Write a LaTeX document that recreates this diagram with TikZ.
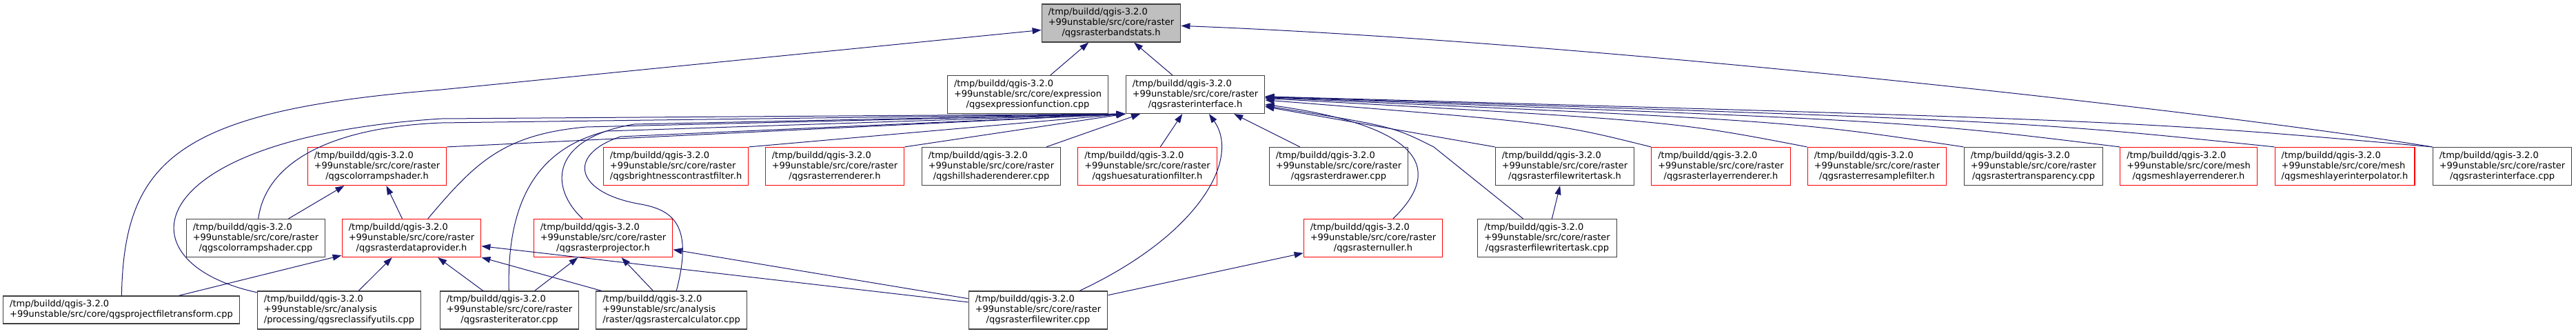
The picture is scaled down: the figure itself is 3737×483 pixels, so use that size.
\documentclass[tikz,border=0pt]{standalone}
\usepackage{fontspec}
\setmainfont{DejaVu Sans}
\usetikzlibrary{arrows.meta}
\definecolor{edgeblue}{RGB}{25,25,112}
\definecolor{boxline}{RGB}{64,64,64}
\definecolor{rootfill}{RGB}{191,191,191}
% three-line file label: first lines flush left, last line centred
\newcommand{\qpath}[2]{\begin{tabular}{@{}l@{}}/tmp/buildd/qgis-3.2.0\\+99unstable/src/#1\\\multicolumn{1}{@{}c@{}}{#2}\end{tabular}}

\begin{document}
\begin{tikzpicture}[
  x=0.5pt, y=-0.5pt,
  fnode/.style={draw=boxline, fill=white, line width=0.6pt, inner xsep=4.8pt,
                inner ysep=0pt, minimum height=27.5pt,
                font=\fontsize{6.5}{7.5}\selectfont},
  trunc/.style={fnode, draw=red},
  root/.style={fnode, fill=rootfill},
  ar/.style={-{Triangle[length=6.5pt,width=4.5pt]}, draw=edgeblue, line width=0.5pt},
]
\useasboundingbox (0,0) rectangle (3737,483);

\node[root] (bst) at (1612,33.5) {\qpath{core/raster}{/qgsrasterbandstats.h}};

\node[fnode] (exp) at (1491,137) {\qpath{core/expression}{/qgsexpressionfunction.cpp}};
\node[fnode] (rih) at (1734,137) {\qpath{core/raster}{/qgsrasterinterface.h}};

\node[trunc] (csh)  at (547,241)    {\qpath{core/raster}{/qgscolorrampshader.h}};
\node[trunc] (bcf)  at (980.6,241)  {\qpath{core/raster}{/qgsbrightnesscontrastfilter.h}};
\node[trunc] (rrd)  at (1211,241)   {\qpath{core/raster}{/qgsrasterrenderer.h}};
\node[fnode] (hsr)  at (1438,241)   {\qpath{core/raster}{/qgshillshaderenderer.cpp}};
\node[trunc] (hsf)  at (1664.5,241) {\qpath{core/raster}{/qgshuesaturationfilter.h}};
\node[fnode] (rdr)  at (1942,241)   {\qpath{core/raster}{/qgsrasterdrawer.cpp}};
\node[fnode] (fwth) at (2270,241)   {\qpath{core/raster}{/qgsrasterfilewritertask.h}};
\node[trunc] (rlr)  at (2496.5,241) {\qpath{core/raster}{/qgsrasterlayerrenderer.h}};
\node[trunc] (rsf)  at (2723,241)   {\qpath{core/raster}{/qgsrasterresamplefilter.h}};
\node[fnode] (rtr)  at (2950,241)   {\qpath{core/raster}{/qgsrastertransparency.cpp}};
\node[trunc] (mlr)  at (3175,241)   {\qpath{core/mesh}{/qgsmeshlayerrenderer.h}};
\node[trunc] (mli)  at (3401.5,241) {\qpath{core/mesh}{/qgsmeshlayerinterpolator.h}};
\node[fnode] (rif)  at (3630,241)   {\qpath{core/raster}{/qgsrasterinterface.cpp}};

\node[fnode] (csc)  at (371,345)    {\qpath{core/raster}{/qgscolorrampshader.cpp}};
\node[trunc] (rdp)  at (597,345)    {\qpath{core/raster}{/qgsrasterdataprovider.h}};
\node[trunc] (rpj)  at (875,345)    {\qpath{core/raster}{/qgsrasterprojector.h}};
\node[trunc] (rnl)  at (1992,345)   {\qpath{core/raster}{/qgsrasternuller.h}};
\node[fnode] (fwtc) at (2244.5,345) {\qpath{core/raster}{/qgsrasterfilewritertask.cpp}};

\node[fnode, minimum height=20pt] (pft) at (176,449)
  {\begin{tabular}{@{}l@{}}/tmp/buildd/qgis-3.2.0\\+99unstable/src/core/qgsprojectfiletransform.cpp\end{tabular}};
\node[fnode] (rcu) at (492,449.5)  {\qpath{analysis}{/processing/qgsreclassifyutils.cpp}};
\node[fnode] (rit) at (739,449.5)  {\qpath{core/raster}{/qgsrasteriterator.cpp}};
\node[fnode] (rcc) at (974,449.5)  {\qpath{analysis}{/raster/qgsrastercalculator.cpp}};
\node[fnode] (rfw) at (1506,449.5) {\qpath{core/raster}{/qgsrasterfilewriter.cpp}};

% includes of the band stats header
\draw[ar] (pft) .. controls (180,230) and (260,160) .. (640,130) -- (bst);
\draw[ar] (exp) -- (bst);
\draw[ar] (rih) -- (bst);
\draw[ar] (rif.north west) .. controls (3200,160) and (2300,60) .. (bst);

% includes of the raster interface, from the left
\draw[ar] (csc) .. controls (385,240) and (470,185) .. (640,178) -- (rih.south west);
\draw[ar] (rcu) .. controls (170,380) and (200,200) .. (640,172) -- (rih.south west);
\draw[ar] (rdp) .. controls (690,235) and (730,195) .. (850,184) -- (rih.south west);
\draw[ar] (rit) .. controls (735,290) and (780,215) .. (880,190) -- (rih.south west);
\draw[ar] (rpj) .. controls (795,270) and (800,200) .. (920,180) -- (rih.south west);
\draw[ar] (rcc) .. controls (1005,330) and (980,305) .. (930,296)
               .. controls (835,280) and (820,225) .. (900,198) -- (rih.south west);
\draw[ar] (csh.north east) -- (rih.south west);
\draw[ar] (bcf.north east) -- (rih.south west);
\draw[ar] (rrd.north east) -- (rih.south west);
\draw[ar] (hsr) -- (rih);
\draw[ar] (hsf) -- (rih);
\draw[ar] (rfw) .. controls (1740,340) and (1800,230) .. (rih);

% includes of the raster interface, from the right
\draw[ar] (rdr) -- (rih);
\draw[ar] (rnl) .. controls (2090,250) and (2075,185) .. (rih);
\draw[ar] (fwtc) -- (2080,213) .. controls (2020,183) .. (rih);
\draw[ar] (fwth.north west) -- (rih);
\draw[ar] (rlr.north west) .. controls (2255,178) .. (rih);
\draw[ar] (rsf.north west) .. controls (2424,175) .. (rih);
\draw[ar] (rtr.north west) .. controls (2595,175) .. (rih);
\draw[ar] (mlr.north west) .. controls (2765,175) .. (rih);
\draw[ar] (mli.north west) .. controls (2933,175) .. (rih);
\draw[ar] (rif.north west) .. controls (3100,175) .. (rih);

% the rest
\draw[ar] (csc) -- (csh);
\draw[ar] (rdp) -- (csh);
\draw[ar] (pft) -- (rdp);
\draw[ar] (rcu) -- (rdp);
\draw[ar] (rit) -- (rdp);
\draw[ar] (rcc) -- (rdp);
\draw[ar] (rfw) -- (rdp);
\draw[ar] (rit) -- (rpj);
\draw[ar] (rcc) -- (rpj);
\draw[ar] (rfw) -- (rpj);
\draw[ar] (rfw) -- (rnl);
\draw[ar] (fwtc) -- (fwth);

\end{tikzpicture}
\end{document}
